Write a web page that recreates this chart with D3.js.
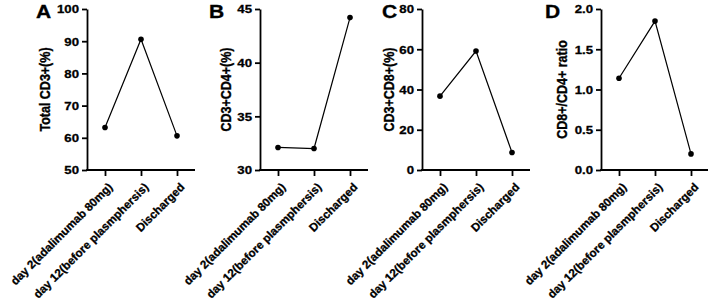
<!DOCTYPE html>
<html>
<head>
<meta charset="utf-8">
<script src="https://cdn.jsdelivr.net/npm/d3@7"></script>
<style>
  body { margin: 0; background: #fff; }
  svg text { font-family: "Liberation Sans", Arial, sans-serif; font-weight: bold; fill: #000; stroke: #000; stroke-width: 0.3px; }
</style>
</head>
<body>
<div id="chart"></div>
<script>
// time points shared by all four panels
const timePoints = ["day 2(adalimumab 80mg)", "day 12(before plasmphersis)", "Discharged"];

// values
const totalCD3 = [63.2, 90.6, 60.6];
const cd3cd4 = [32.1, 32.0, 44.2];
const cd3cd8 = [36.7, 59.1, 8.7];
const cd8cd4Ratio = [1.14, 1.85, 0.20];

const panelLetters = ["A", "B", "C", "D"];
const yTitles = ["Total CD3+(%)", "CD3+CD4+(%)", "CD3+CD8+(%)", "CD8+/CD4+ ratio"];
const yDomains = [[50, 100], [30, 45], [0, 80], [0, 2]];
const yTicks = [[50, 60, 70, 80, 90, 100], [30, 35, 40, 45], [0, 20, 40, 60, 80], [0, 0.5, 1, 1.5, 2]];
const yFormats = [d3.format("d"), d3.format("d"), d3.format("d"), d3.format(".1f")];
const series = [totalCD3, cd3cd4, cd3cd8, cd8cd4Ratio];

const width = 708, height = 304;
const plotTop = 9, plotBottom = 170, plotW = 108;
const axisX = [87, 260, 422, 601];
const titleX = [45, 226, 389, 562];
const letterX = [36, 209, 382, 545];
const sx = 1.2; // the source figure's text is a little wide

const svg = d3.select("#chart")
  .append("svg")
  .attr("width", width)
  .attr("height", height);

series.forEach((values, i) => {
  const x0 = axisX[i];
  const g = svg.append("g");

  const x = d3.scalePoint()
    .domain(timePoints)
    .range([x0, x0 + plotW])
    .padding(0.5);

  const y = d3.scaleLinear()
    .domain(yDomains[i])
    .range([plotBottom, plotTop]);

  // y axis
  const yAxis = g.append("g")
    .attr("transform", `translate(${x0},0)`)
    .call(d3.axisLeft(y).tickValues(yTicks[i]).tickFormat(yFormats[i]).tickSize(5).tickSizeOuter(0));

  // x axis
  const xAxis = g.append("g")
    .attr("transform", `translate(0,${plotBottom})`)
    .call(d3.axisBottom(x).tickSize(6).tickSizeOuter(0));

  [yAxis, xAxis].forEach(a => {
    a.select(".domain").attr("stroke-width", 1.8);
    a.selectAll(".tick line").attr("stroke-width", 1.8);
  });
  yAxis.selectAll("text")
    .style("font-size", "11px")
    .attr("x", 0).attr("dy", "0.35em")
    .attr("transform", `translate(-8,0) scale(${sx},1)`);
  // stretch the domain so both axes meet at the corner
  xAxis.select(".domain").attr("d", `M${x0 - 0.9},0H${x0 + plotW}`);

  xAxis.selectAll("text")
    .style("font-size", "11.6px")
    .attr("text-anchor", "end")
    .attr("transform", "translate(2,12) rotate(-45)")
    .attr("x", 0).attr("y", 0).attr("dy", "0.71em");

  // line and points
  const line = d3.line()
    .x((d, j) => x(timePoints[j]))
    .y(d => y(d));

  g.append("path")
    .datum(values)
    .attr("d", line)
    .attr("fill", "none")
    .attr("stroke", "#000")
    .attr("stroke-width", 1.2);

  g.selectAll("circle")
    .data(values)
    .enter()
    .append("circle")
    .attr("cx", (d, j) => x(timePoints[j]))
    .attr("cy", d => y(d))
    .attr("r", 2.8)
    .attr("fill", "#000");

  // y title
  g.append("text")
    .attr("transform", `translate(${titleX[i]},${(plotTop + plotBottom) / 2}) rotate(-90) scale(1,${sx})`)
    .attr("text-anchor", "middle")
    .attr("dy", "0.35em")
    .style("font-size", "12.5px")
    .text(yTitles[i]);

  // panel letter
  g.append("text")
    .attr("transform", `translate(${letterX[i]},18) scale(${sx},1)`)
    .style("font-size", "17.5px")
    .text(panelLetters[i]);
});
</script>
</body>
</html>
